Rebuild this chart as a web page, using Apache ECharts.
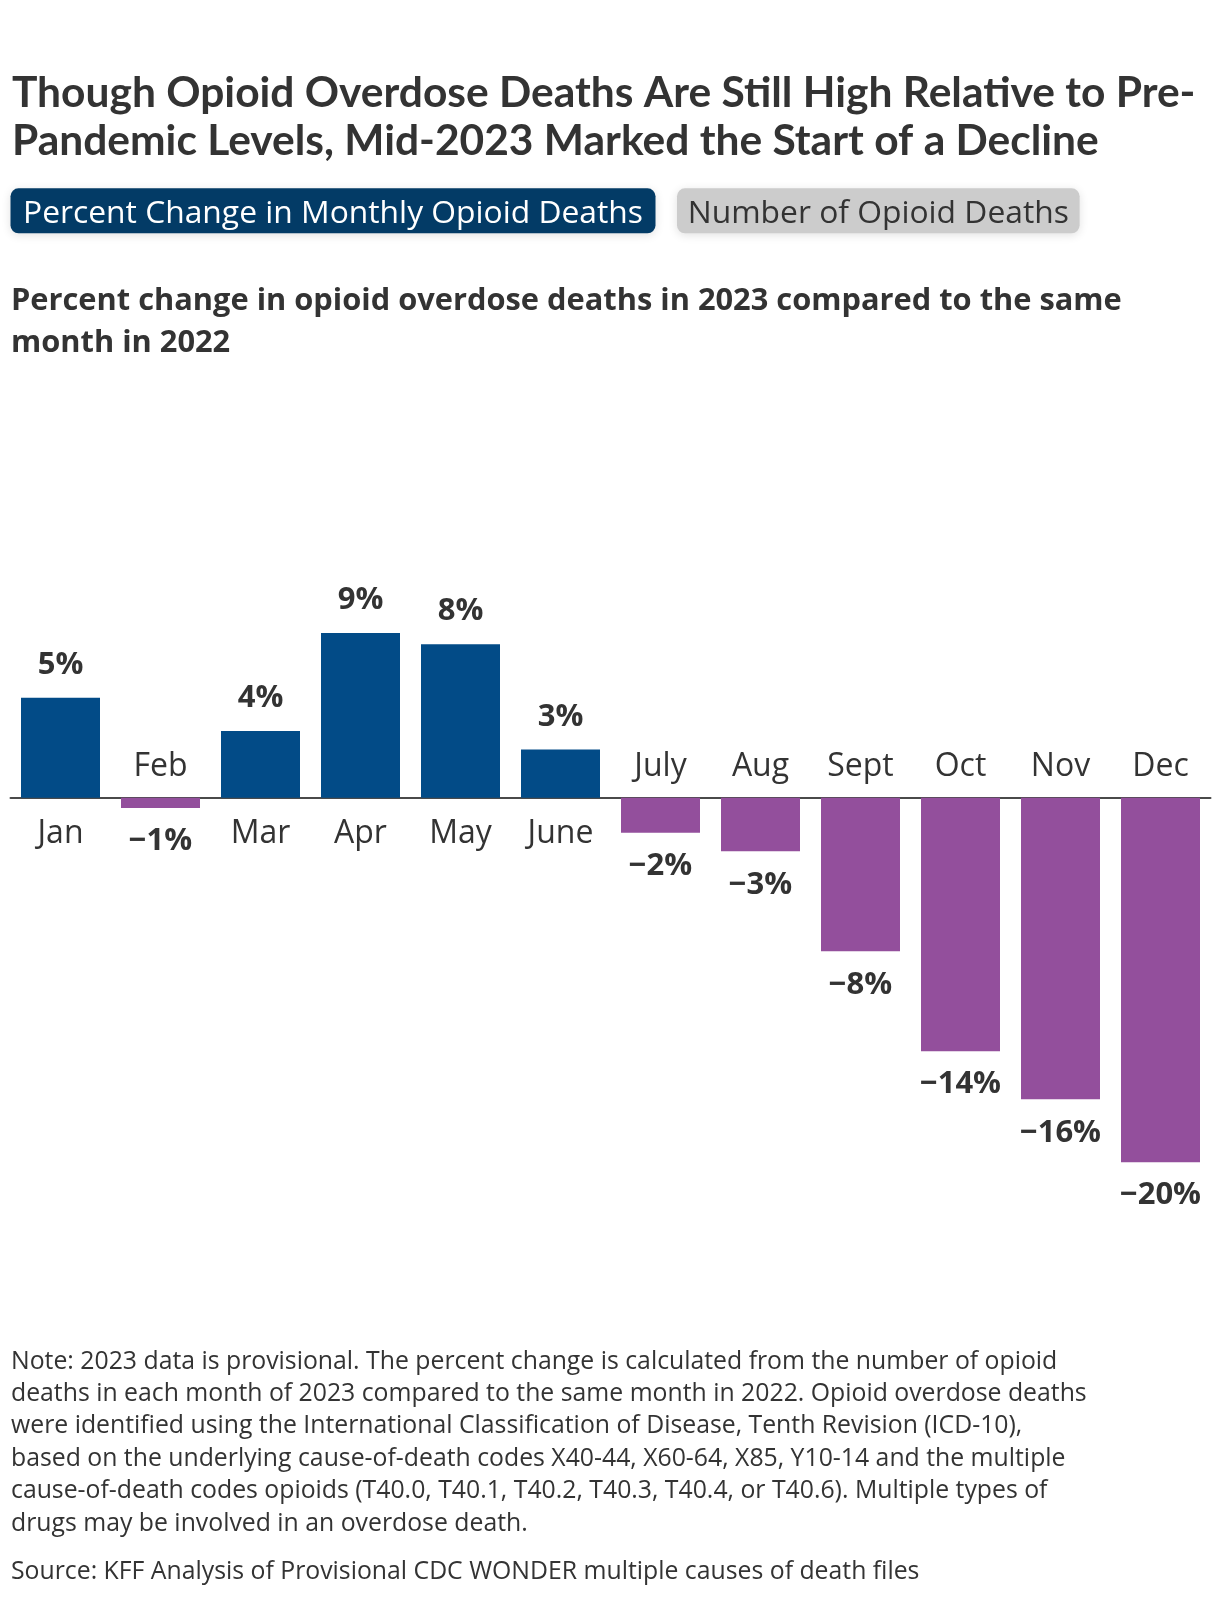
<!DOCTYPE html>
<html>
<head>
<meta charset="utf-8">
<script src="https://cdn.jsdelivr.net/npm/echarts@6/dist/echarts.min.js"></script>
<style>
  html, body { margin: 0; padding: 0; background: #ffffff; }
  #chart { width: 1220px; height: 1598px; }
</style>
</head>
<body>
<div id="chart"></div>
<script>
// ---- data ----
var months = ['Jan', 'Feb', 'Mar', 'Apr', 'May', 'June', 'July', 'Aug', 'Sept', 'Oct', 'Nov', 'Dec'];
var pctChange = [5.4, -0.55, 3.6, 8.9, 8.3, 2.6, -1.9, -2.9, -8.3, -13.7, -16.3, -19.7];
var titleLines = [
  'Though Opioid Overdose Deaths Are Still High Relative to Pre-',
  'Pandemic Levels, Mid-2023 Marked the Start of a Decline'
];
var buttonLabels = ['Percent Change in Monthly Opioid Deaths', 'Number of Opioid Deaths'];
var subtitleLines = [
  'Percent change in opioid overdose deaths in 2023 compared to the same',
  'month in 2022'
];
var noteLines = [
  'Note: 2023 data is provisional. The percent change is calculated from the number of opioid',
  'deaths in each month of 2023 compared to the same month in 2022. Opioid overdose deaths',
  'were identified using the International Classification of Disease, Tenth Revision (ICD-10),',
  'based on the underlying cause-of-death codes X40-44, X60-64, X85, Y10-14 and the multiple',
  'cause-of-death codes opioids (T40.0, T40.1, T40.2, T40.3, T40.4, or T40.6). Multiple types of',
  'drugs may be involved in an overdose death.'
];
var sourceLine = 'Source: KFF Analysis of Provisional CDC WONDER multiple causes of death files';

// ---- styles ----
var TITLE_FONT = 'Lato';
var FONT = '"Open Sans"';
var TEXT = '#333333';
var BLUE = '#024b87';
var PURPLE = '#934f9c';

function fmtPct(v) {
  var r = Math.round(Math.abs(v));
  return (v < 0 ? '\u2212' : '') + r + '%';
}

var valueData = pctChange.map(function (v) {
  return {
    value: v,
    itemStyle: { color: v >= 0 ? BLUE : PURPLE },
    label: {
      position: v >= 0 ? 'top' : 'bottom',
      distance: v >= 0 ? 17 : 18
    }
  };
});

var nameData = pctChange.map(function (v, i) {
  return {
    value: 0,
    label: {
      formatter: months[i],
      position: v >= 0 ? 'bottom' : 'top',
      distance: v >= 0 ? 20 : 14.5
    }
  };
});

var graphics = [];
titleLines.forEach(function (t, i) {
  graphics.push({
    type: 'text', x: 12, y: 92.8 + i * 48.4,
    style: { text: t, font: 'bold 42.5px ' + TITLE_FONT, fill: TEXT, verticalAlign: 'middle' }
  });
});
// buttons
var btns = [
  { x: 10.5, w: 645, fill: '#033b66', color: '#ffffff' },
  { x: 677, w: 402.6, fill: '#cccccc', color: TEXT }
];
btns.forEach(function (b, i) {
  graphics.push({
    type: 'rect',
    shape: { x: b.x, y: 188.3, width: b.w, height: 45, r: 8 },
    style: { fill: b.fill, shadowBlur: 10, shadowColor: 'rgba(0,0,0,0.12)', shadowOffsetY: 2 }
  });
  graphics.push({
    type: 'text',
    x: b.x + b.w / 2, y: 214,
    style: { text: buttonLabels[i], font: '31.8px ' + FONT, fill: b.color, align: 'center', verticalAlign: 'middle' }
  });
});
subtitleLines.forEach(function (t, i) {
  graphics.push({
    type: 'text', x: 11, y: 301.3 + i * 41.5,
    style: { text: t, font: 'bold 30.8px ' + FONT, fill: TEXT, verticalAlign: 'middle' }
  });
});
noteLines.forEach(function (t, i) {
  graphics.push({
    type: 'text', x: 11, y: 1361.5 + i * 32.4,
    style: { text: t, font: '24.8px ' + FONT, fill: TEXT, verticalAlign: 'middle' }
  });
});
graphics.push({
  type: 'text', x: 11, y: 1572,
  style: { text: sourceLine, font: '24.8px ' + FONT, fill: TEXT, verticalAlign: 'middle' }
});

var chart = echarts.init(document.getElementById('chart'), null, { renderer: 'canvas' });
chart.setOption({
  backgroundColor: '#ffffff',
  animation: false,
  grid: { left: 10.5, right: 9.5, top: 612.7, height: 555, containLabel: false },
  xAxis: {
    type: 'category',
    data: months,
    axisLine: { onZero: true, lineStyle: { color: '#4a4a4a', width: 2 } },
    axisTick: { show: false },
    axisLabel: { show: false },
    splitLine: { show: false }
  },
  yAxis: {
    type: 'value', min: -20, max: 10, interval: 10,
    show: false, splitLine: { show: false }
  },
  series: [
    {
      type: 'bar',
      data: valueData,
      barWidth: '79%',
      z: 2,
      label: {
        show: true,
        formatter: function (p) { return fmtPct(p.value); },
        fontFamily: FONT, fontWeight: 'bold', fontSize: 31, lineHeight: 31,
        color: TEXT
      }
    },
    {
      type: 'bar',
      data: nameData,
      barWidth: '79%',
      barGap: '-100%',
      itemStyle: { color: 'rgba(0,0,0,0)' },
      silent: true,
      label: {
        show: true,
        fontFamily: FONT, fontSize: 32, lineHeight: 32,
        color: TEXT
      }
    }
  ],
  graphic: graphics
});
</script>
</body>
</html>
